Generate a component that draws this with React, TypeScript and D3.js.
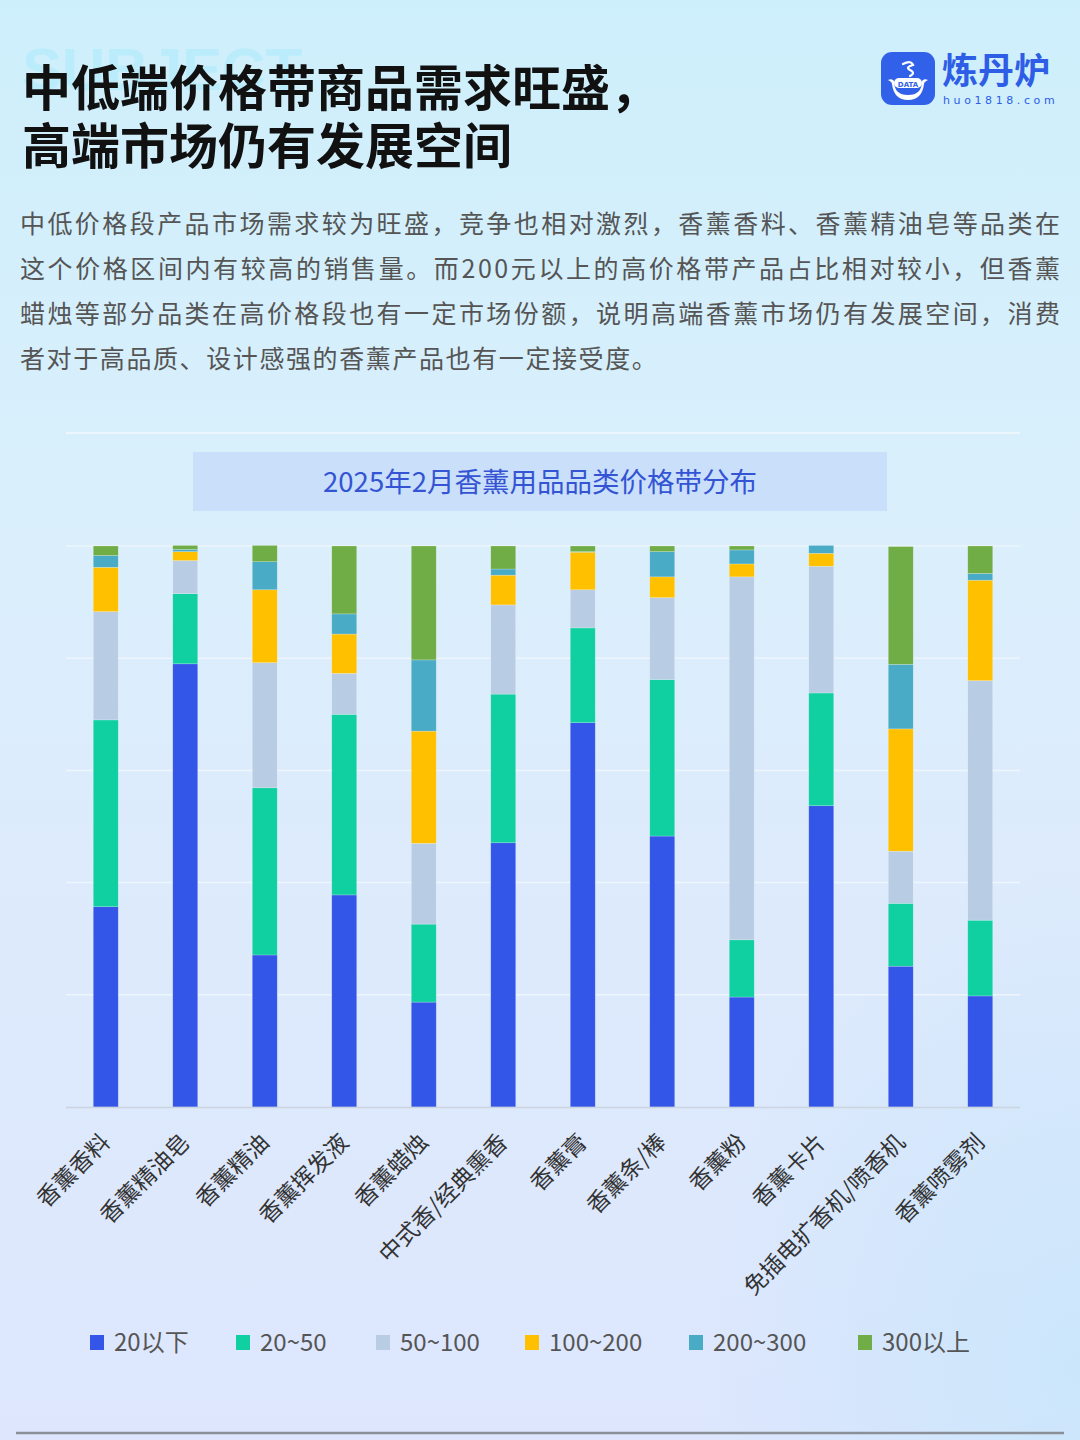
import React from "react";
import * as d3 from "d3";

const categories = [
  "香薰香料", "香薰精油皂", "香薰精油", "香薰挥发液", "香薰蜡烛", "中式香/经典熏香",
  "香薰膏", "香薰条/棒", "香薰粉", "香薰卡片", "免插电扩香机/喷香机", "香薰喷雾剂",
];
const seriesNames = ["20以下", "20~50", "50~100", "100~200", "200~300", "300以上"];
const s20 = [35.7, 79.0, 27.1, 37.8, 18.7, 47.1, 68.5, 48.3, 19.6, 53.7, 25.1, 19.8];
const s20to50 = [33.3, 12.5, 29.8, 32.2, 13.9, 26.5, 16.9, 27.9, 10.2, 20.1, 11.2, 13.5];
const s50to100 = [19.3, 5.9, 22.3, 7.3, 14.4, 15.9, 6.8, 14.6, 64.7, 22.6, 9.3, 42.7];
const s100to200 = [7.9, 1.6, 13.0, 7.0, 20.0, 5.3, 6.7, 3.7, 2.3, 2.3, 21.8, 17.9];
const s200to300 = [2.1, 0.4, 5.0, 3.6, 12.7, 1.1, 0.1, 4.5, 2.5, 1.4, 11.5, 1.2];
const s300 = [1.7, 0.7, 2.9, 12.1, 20.3, 4.1, 1.0, 1.0, 0.7, 0.0, 21.0, 4.9];
const colors = ["#3355e8", "#10cfa0", "#b8cde4", "#ffc000", "#4aabc6", "#70ad47"];
const yTicks = [0, 20, 40, 60, 80, 100];

const paragraph = [
  "中低价格段产品市场需求较为旺盛，竞争也相对激烈，香薰香料、香薰精油皂等品类在",
  "这个价格区间内有较高的销售量。而200元以上的高价格带产品占比相对较小，但香薰",
  "蜡烛等部分品类在高价格段也有一定市场份额，说明高端香薰市场仍有发展空间，消费",
  "者对于高品质、设计感强的香薰产品也有一定接受度。",
];

const W = 1080;
const H = 1440;
const left = 66;
const right = 1020;
const top = 546;
const bottom = 1107;

export default function App() {
  const allSeries = [s20, s20to50, s50to100, s100to200, s200to300, s300];
  const rows = categories.map((c, i) => {
    const r: any = { cat: c };
    seriesNames.forEach((n, k) => (r[n] = allSeries[k][i]));
    return r;
  });
  const stack = d3.stack<any>().keys(seriesNames)(rows);
  const x = d3
    .scaleBand<string>()
    .domain(categories)
    .range([left, right])
    .paddingInner(0.686)
    .paddingOuter(0.343);
  const y = d3.scaleLinear().domain([0, 100]).range([bottom, top]);
  const cjk = "'Noto Sans CJK SC', 'Noto Sans', sans-serif";

  const legendX = [90, 236, 376, 525, 689, 858];

  return (
    <div style={{ position: "absolute", left: 0, top: 0, width: W, height: H }}>
      <svg width={W} height={H} style={{ display: "block" }}>
        <defs>
          <linearGradient id="bg" x1="0" y1="0" x2="0" y2="1">
            <stop offset="0" stopColor="#cdeffb" />
            <stop offset="0.35" stopColor="#daeffc" />
            <stop offset="0.6" stopColor="#ddebfc" />
            <stop offset="1" stopColor="#dde6fd" />
          </linearGradient>
          <radialGradient id="br" cx="1" cy="0.95" r="0.35">
            <stop offset="0" stopColor="#c9e6fb" stopOpacity="0.9" />
            <stop offset="1" stopColor="#c9e6fb" stopOpacity="0" />
          </radialGradient>
        </defs>
        <rect x={0} y={0} width={W} height={H} fill="url(#bg)" />
        <rect x={0} y={0} width={W} height={H} fill="url(#br)" />

        {/* watermark */}
        <text x={22} y={90} fontFamily="'Liberation Sans', Arial, sans-serif" fontWeight={700}
          fontSize={60} fill="#b9ecfb" opacity={0.9}>SUBJECT</text>

        {/* title */}
        <g fontFamily={cjk} fontWeight={700} fontSize={49} fill="#111">
          <text x={22} y={106}>中低端价格带商品需求旺盛，</text>
          <text x={22} y={164}>高端市场仍有发展空间</text>
        </g>

        {/* logo */}
        <g>
          <rect x={881} y={52} width={54} height={53} rx={11} fill="#3261e9" />
          <path d="M903 64 q8 -4 10 1 q-8 2 -3 5 q6 3 0 6" fill="none" stroke="#fff" strokeWidth={2.2} strokeLinecap="round" />
          <path d="M888 80 q4 -2 6 1 q0 14 14 14 q14 0 14 -14 q2 -3 6 -1 q-4 2 -4 4 q-2 16 -16 16 q-14 0 -16 -16 q0 -2 -4 -4z" fill="#fff" />
          <rect x={894} y={78} width={28} height={10} rx={5} fill="#fff" />
          <text x={908} y={86.5} textAnchor="middle" fontFamily="'DejaVu Sans', sans-serif" fontWeight={700} fontSize={7} fill="#3261e9">DATA</text>
          <text x={942} y={84} fontFamily={cjk} fontWeight={700} fontSize={36} fill="#2e5de6">炼丹炉</text>
          <text x={943} y={104} fontFamily="'DejaVu Sans', sans-serif" fontSize={11} letterSpacing={3.6} fill="#2e5de6">huo1818.com</text>
        </g>

        {/* paragraph */}
        <g fontFamily={cjk} fontSize={25} fill="#555">
          {paragraph.map((t, i) => (
            <text key={i} x={20} y={233 + i * 45}
              {...(i < 3 ? { textLength: 1040, lengthAdjust: "spacing" } : { letterSpacing: 1.6 })}>{t}</text>
          ))}
        </g>

        {/* top separator */}
        <line x1={left} x2={right} y1={433} y2={433} stroke="#f2f8fd" strokeWidth={2} opacity={0.8} />

        {/* chart title */}
        <rect x={193} y={452} width={694} height={59} fill="#c9dffa" />
        <text x={540} y={492} textAnchor="middle" fontFamily={cjk} fontSize={27.5} fill="#3454d4">2025年2月香薰用品品类价格带分布</text>

        {/* gridlines */}
        {yTicks.slice(1).map((t) => (
          <line key={t} x1={left} x2={right} y1={y(t)} y2={y(t)} stroke="#eef5fd" strokeWidth={1.5} />
        ))}

        {/* bars */}
        {stack.map((s, k) => (
          <g key={s.key} fill={colors[k]}>
            {s.map((d, i) =>
              d[1] - d[0] > 0 ? (
                <rect key={i} x={x(categories[i])} width={x.bandwidth()}
                  y={y(d[1])} height={y(d[0]) - y(d[1])}
                  stroke="#ffffff" strokeOpacity={0.35} strokeWidth={0.6} />
              ) : null
            )}
          </g>
        ))}

        {/* axis line */}
        <line x1={left} x2={right} y1={bottom + 0.5} y2={bottom + 0.5} stroke="#ccd4de" strokeWidth={1.5} />

        {/* x labels */}
        <g fontFamily={cjk} fontSize={23} fill="#333">
          {categories.map((c) => (
            <text key={c} textAnchor="end" dy="0.35em"
              transform={`translate(${(x(c) as number) + x.bandwidth() / 2 + 0},${1138}) rotate(-45)`}>{c}</text>
          ))}
        </g>

        {/* legend */}
        <g fontFamily={cjk} fontSize={24} fill="#555">
          {seriesNames.map((n, k) => (
            <g key={n}>
              <rect x={legendX[k]} y={1335} width={14} height={15} fill={colors[k]} />
              <text x={legendX[k] + 24} y={1351}>{n}</text>
            </g>
          ))}
        </g>

        {/* bottom line */}
        <line x1={16} x2={1064} y1={1433} y2={1433} stroke="#8a8f98" strokeWidth={2.5} />
      </svg>
    </div>
  );
}
